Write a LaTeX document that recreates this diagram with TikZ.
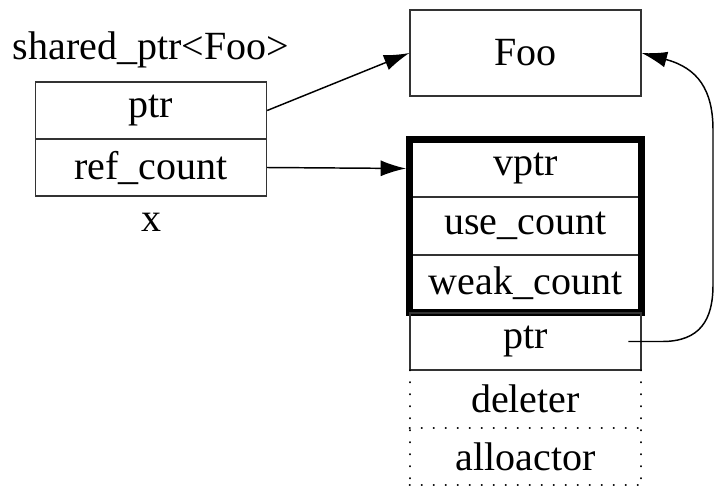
\documentclass[tikz,border=0pt]{standalone}
\usepackage{fontspec}
\setmainfont{Liberation Serif}
\usetikzlibrary{arrows.meta}
\begin{document}
\begin{tikzpicture}[x=0.75pt,y=-0.75pt,
  lbl/.style={font=\fontsize{30}{35}\selectfont, inner sep=0pt},
  cell/.style={lbl, draw=black!80, line width=1pt, minimum width=173.25pt, minimum height=42.75pt},
  ghost/.style={lbl, minimum width=173.25pt, minimum height=42.75pt},
  conn/.style={line width=1.1pt, -{Latex[length=19pt,width=12pt]}},
  dotline/.style={line width=1.6pt, line cap=round, dash pattern=on 0.1pt off 8.9pt}
]
\useasboundingbox (0,0) rectangle (722,494);
% left structure
\node[lbl] (title) at (151,50) {shared\_ptr<Foo>};
\node[cell] (lptr) at (151,110.5) {ptr};
\node[cell] (lref) at (151,167.5) {ref\_count};
\node[lbl] (xname) at (151,222) {x};
% Foo
\node[cell, minimum height=64.5pt] (foo) at (525.5,53) {Foo};
% control block
\node[cell] (vptr) at (525.5,168.5) {vptr};
\node[cell] (use) at (525.5,226) {use\_count};
\node[cell] (weak) at (525.5,283.5) {weak\_count};
\draw[line width=5.5pt] (vptr.north west) rectangle (weak.south east);
\node[cell] (rptr) at (525.5,341.5) {ptr};
\node[ghost] (del) at (525.5,399) {deleter};
\node[ghost] (alloc) at (525.5,456.5) {alloactor};
\draw[dotline] (del.north west) -- (alloc.south west);
\draw[dotline] (del.north east) -- (alloc.south east);
\draw[dotline] (del.south west) -- (del.south east);
\draw[dotline] (alloc.south west) -- (alloc.south east);
% connectors
\draw[conn] (lptr.east) -- (foo.west);
\draw[conn, shorten >=2.5pt] (lref.east) -- (vptr.west);
\coordinate (start) at ([xshift=-10pt]rptr.east);
\draw[conn] (start) -- (662,341.5) .. controls (700,341.5) and (713,320) .. (713,285)
  -- (713,130) .. controls (713,90) and (698,68) .. (foo.east);
\end{tikzpicture}
\end{document}
